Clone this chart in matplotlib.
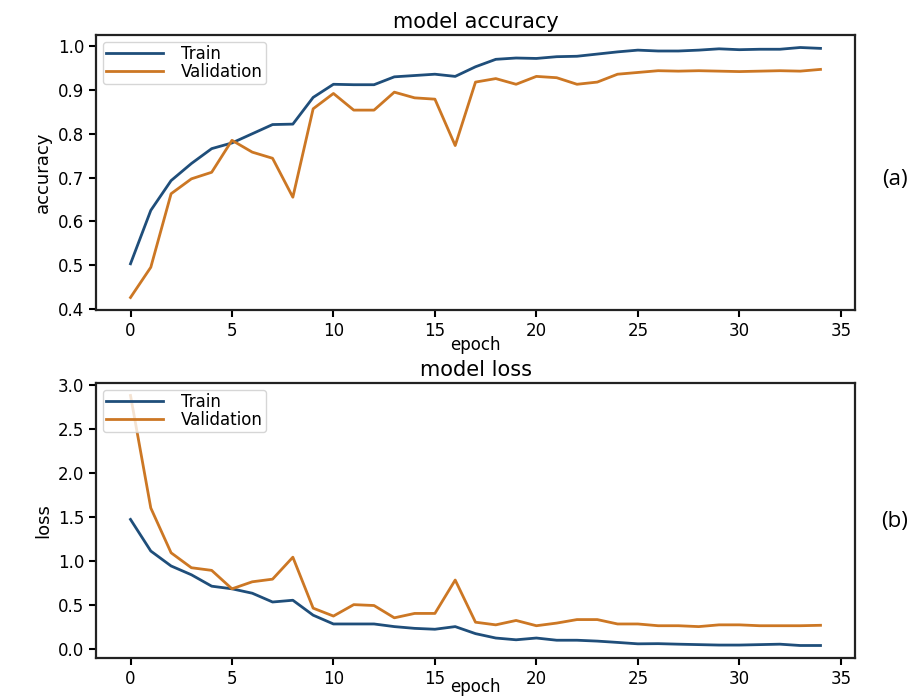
import numpy as np
import matplotlib
matplotlib.use("Agg")
import matplotlib.pyplot as plt

# nilai (per epoch 0..34)
epochs = np.arange(35)

train_acc = [0.503, 0.625, 0.693, 0.732, 0.766, 0.779, 0.800, 0.821, 0.822, 0.883,
             0.913, 0.912, 0.912, 0.930, 0.933, 0.936, 0.931, 0.953, 0.970, 0.973,
             0.972, 0.976, 0.977, 0.982, 0.987, 0.991, 0.989, 0.989, 0.991, 0.994,
             0.992, 0.993, 0.993, 0.997, 0.995]
val_acc = [0.426, 0.495, 0.663, 0.697, 0.712, 0.785, 0.758, 0.744, 0.655, 0.857,
           0.892, 0.854, 0.854, 0.895, 0.882, 0.879, 0.773, 0.918, 0.926, 0.913,
           0.931, 0.928, 0.913, 0.918, 0.936, 0.940, 0.944, 0.943, 0.944, 0.943,
           0.942, 0.943, 0.944, 0.943, 0.947]

train_loss = [1.47, 1.11, 0.94, 0.84, 0.71, 0.68, 0.63, 0.53, 0.55, 0.38,
              0.28, 0.28, 0.28, 0.25, 0.23, 0.22, 0.25, 0.17, 0.12, 0.10,
              0.12, 0.095, 0.095, 0.085, 0.07, 0.054, 0.056, 0.05, 0.045, 0.04,
              0.04, 0.045, 0.05, 0.035, 0.035]
val_loss = [2.88, 1.60, 1.09, 0.92, 0.89, 0.68, 0.76, 0.79, 1.04, 0.46,
            0.37, 0.50, 0.49, 0.35, 0.40, 0.40, 0.78, 0.30, 0.27, 0.32,
            0.26, 0.29, 0.33, 0.33, 0.28, 0.28, 0.26, 0.26, 0.25, 0.27,
            0.27, 0.26, 0.26, 0.26, 0.265]

labels = ['Train', 'Validation']
c_train = '#1f4e7a'
c_val = '#cc7724'

W, H = 921, 699
fig = plt.figure(figsize=(W / 100, H / 100), dpi=100)


def panel(top, bottom, y1, y2, title, ylabel, xpad):
    ax = fig.add_axes([96 / W, 1 - bottom / H, (855 - 96) / W, (bottom - top) / H])
    ax.plot(epochs, y1, color=c_train, lw=2, label=labels[0])
    ax.plot(epochs, y2, color=c_val, lw=2, label=labels[1])
    ax.set_title(title, fontsize=15, pad=5)
    ax.set_xlabel('epoch', fontsize=12, labelpad=xpad)
    ax.set_ylabel(ylabel, fontsize=13, family=['Liberation Sans Narrow', 'DejaVu Sans'])
    ax.tick_params(labelsize=12, width=1.5, length=5)
    for s in ax.spines.values():
        s.set_linewidth(1.6)
        s.set_color('#222222')
    ax.legend(loc='upper left', fontsize=12, labelspacing=0.0, borderpad=0.2,
              handlelength=3.4, handletextpad=1.1, borderaxespad=0.4)
    return ax


ax1 = panel(35, 310, train_acc, val_acc, 'model accuracy', 'accuracy', -3)
ax2 = panel(383, 658, train_loss, val_loss, 'model loss', 'loss', -7)
ax1.set_xticks(range(0, 36, 5))
ax2.set_xticks(range(0, 36, 5))

fig.text(895 / W, 1 - 180 / H, '(a)', fontsize=16, family='Open Sans', ha='center', va='center')
fig.text(895 / W, 1 - 522 / H, '(b)', fontsize=16, family='Open Sans', ha='center', va='center')

fig.savefig('out.png', dpi=100)
